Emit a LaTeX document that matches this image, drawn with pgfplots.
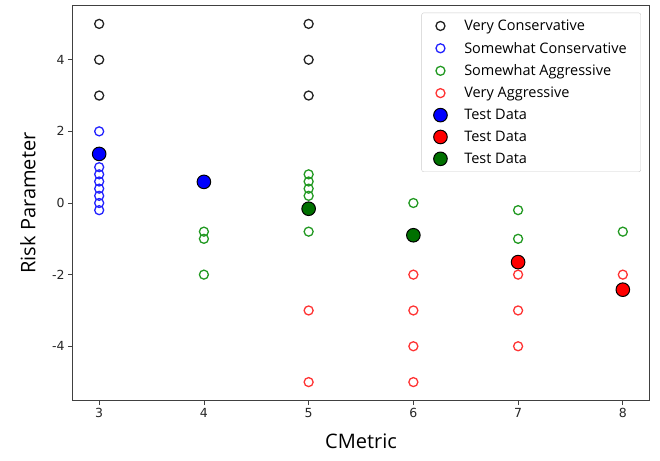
\documentclass[border=0pt]{standalone}
\usepackage{pgfplots}
\pgfplotsset{compat=1.18}
\usepackage{fontspec}
\setmainfont{Open Sans}
\newfontfamily\tickfont{DejaVu Sans}
\definecolor{cblack}{HTML}{222222}
\definecolor{cblue}{HTML}{2222FF}
\definecolor{cgreen}{HTML}{229922}
\definecolor{cred}{HTML}{FF3333}
\definecolor{fgreen}{HTML}{007000}
\begin{document}
\begin{tikzpicture}
\begin{axis}[
  name=main,
  width=576pt, height=394pt, scale only axis,
  xmin=2.75, xmax=8.25, ymin=-5.5, ymax=5.5,
  xtick={3,4,5,6,7,8}, ytick={-4,-2,0,2,4},
  tick align=outside, tick pos=left, major tick length=5pt,
  axis line style={color=black!75, line width=1pt},
  every tick/.style={color=black!75, line width=0.8pt},
  /pgf/number format/assume math mode=true,
  tick label style={font=\tickfont\fontsize{12.5}{14}\selectfont, color=black!85},
  xlabel={CMetric}, ylabel={Risk Parameter},
  label style={font=\fontsize{20}{23}\selectfont},
  xlabel style={at={(axis description cs:0.5,0)}, anchor=center, yshift=-41pt},
  ylabel style={at={(axis description cs:0,0.5)}, anchor=center, yshift=45pt},
  legend style={at={(0.986,0.983)}, anchor=north east, draw=black!20, rounded corners=2pt,
    font=\fontsize{14.5}{16}\selectfont, row sep=6pt, column sep=15pt,
    inner xsep=12pt, inner ysep=5pt},
  legend cell align=left,
]
\addplot[only marks, mark=o, mark size=4.5pt, cblack, line width=1.3pt] coordinates {
 (3,5) (3,4) (3,3) (5,5) (5,4) (5,3)};
\addlegendentry{Very Conservative}
\addplot[only marks, mark=o, mark size=4.5pt, cblue, line width=1.3pt] coordinates {
 (3,2) (3,1) (3,0.8) (3,0.6) (3,0.4) (3,0.2) (3,0) (3,-0.2)};
\addlegendentry{Somewhat Conservative}
\addplot[only marks, mark=o, mark size=4.5pt, cgreen, line width=1.3pt] coordinates {
 (4,-0.8) (4,-1) (4,-2)
 (5,0.8) (5,0.6) (5,0.4) (5,0.2) (5,-0.8)
 (6,0)
 (7,-0.2) (7,-1)
 (8,-0.8)};
\addlegendentry{Somewhat Aggressive}
\addplot[only marks, mark=o, mark size=4.5pt, cred, line width=1.3pt] coordinates {
 (5,-3) (5,-5)
 (6,-2) (6,-3) (6,-4) (6,-5)
 (7,-2) (7,-3) (7,-4)
 (8,-2)};
\addlegendentry{Very Aggressive}
\addplot[only marks, mark=*, mark size=6.8pt, draw=black, fill=blue, line width=1pt] coordinates {
 (3,1.37) (4,0.59)};
\addlegendentry{Test Data}
\addplot[only marks, mark=*, mark size=6.8pt, draw=black, fill=red, line width=1pt] coordinates {
 (7,-1.65) (8,-2.42)};
\addlegendentry{Test Data}
\addplot[only marks, mark=*, mark size=6.8pt, draw=black, fill=fgreen, line width=1pt] coordinates {
 (5,-0.16) (6,-0.9)};
\addlegendentry{Test Data}
\end{axis}
\pgfresetboundingbox
\path[use as bounding box] ([shift={(-73pt,-60pt)}]main.south west) rectangle ([shift={(587pt,400pt)}]main.south west);
\end{tikzpicture}
\end{document}
